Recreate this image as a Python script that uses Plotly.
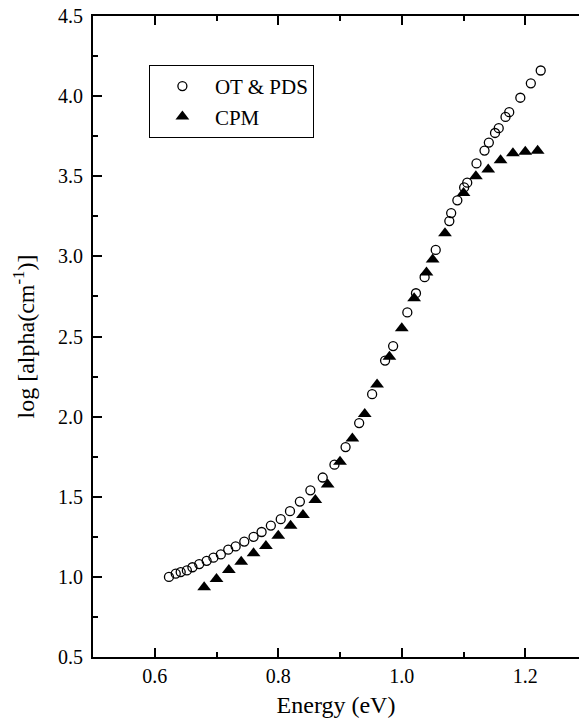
import plotly.graph_objects as go

# OT & PDS data (open circles)
ot_energy = [0.623, 0.634, 0.642, 0.652, 0.661, 0.672, 0.684, 0.695, 0.707, 0.719,
             0.731, 0.745, 0.760, 0.773, 0.788, 0.804, 0.819, 0.835, 0.852, 0.872,
             0.891, 0.909, 0.931, 0.952, 0.973, 0.986, 1.009, 1.023, 1.037, 1.055,
             1.077, 1.080, 1.090, 1.101, 1.106, 1.121, 1.134, 1.141, 1.151, 1.157,
             1.168, 1.174, 1.192, 1.209, 1.225]
ot_logalpha = [1.00, 1.02, 1.03, 1.04, 1.06, 1.08, 1.10, 1.12, 1.14, 1.17,
               1.19, 1.22, 1.25, 1.28, 1.32, 1.36, 1.41, 1.47, 1.54, 1.62,
               1.70, 1.81, 1.96, 2.14, 2.35, 2.44, 2.65, 2.77, 2.87, 3.04,
               3.22, 3.27, 3.35, 3.43, 3.46, 3.58, 3.66, 3.71, 3.77, 3.80,
               3.87, 3.90, 3.99, 4.08, 4.16]

# CPM data (filled triangles)
cpm_energy = [0.68, 0.70, 0.72, 0.74, 0.76, 0.78, 0.80, 0.82, 0.84, 0.86,
              0.88, 0.90, 0.92, 0.94, 0.96, 0.98, 1.00, 1.02, 1.04, 1.05,
              1.07, 1.10, 1.12, 1.14, 1.16, 1.18, 1.20, 1.22]
cpm_logalpha = [0.935, 0.987, 1.043, 1.095, 1.147, 1.192, 1.257, 1.319, 1.386, 1.48,
                1.577, 1.718, 1.864, 2.016, 2.201, 2.373, 2.551, 2.738, 2.90, 2.98,
                3.144, 3.395, 3.50, 3.542, 3.60, 3.643, 3.653, 3.659]

FONT = "'Liberation Serif', 'Times New Roman', 'DejaVu Serif', serif"

fig = go.Figure()
fig.add_trace(go.Scatter(
    x=ot_energy, y=ot_logalpha, mode="markers", name="OT & PDS",
    marker=dict(symbol="circle-open", size=9, color="black", line=dict(width=1.3, color="black")),
))
fig.add_trace(go.Scatter(
    x=cpm_energy, y=cpm_logalpha, mode="markers", name="CPM",
    marker=dict(symbol="triangle-up", size=12, color="black", line=dict(width=0)),
))

fig.update_layout(
    width=579, height=722,
    margin=dict(l=93, r=0, t=16, b=65),
    paper_bgcolor="white", plot_bgcolor="white",
    font=dict(family=FONT, size=20, color="black"),
    showlegend=True,
    legend=dict(
        x=0.115, y=0.9236, xanchor="left", yanchor="top",
        bordercolor="black", borderwidth=1, bgcolor="white",
        font=dict(family=FONT, size=21, color="black"),
        itemwidth=55,
    ),
    xaxis=dict(
        range=[0.5, 1.287], dtick=0.2, tick0=0.6,
        showgrid=False, zeroline=False,
        showline=True, linecolor="black", linewidth=2, mirror="allticks",
        ticks="inside", ticklen=9, tickwidth=1.5, tickcolor="black",
        tickformat=".1f",
        minor=dict(dtick=0.1, ticks="inside", ticklen=5, tickwidth=1.5, tickcolor="black"),
        title=dict(text="Energy (eV)", font=dict(family=FONT, size=24), standoff=10),
        tickfont=dict(family=FONT, size=20),
    ),
    yaxis=dict(
        range=[0.5, 4.5], dtick=0.5, tick0=0.5,
        showgrid=False, zeroline=False,
        showline=True, linecolor="black", linewidth=2, mirror=False,
        ticks="inside", ticklen=9, tickwidth=1.5, tickcolor="black",
        tickformat=".1f", ticklabelstandoff=4,
        minor=dict(dtick=0.25, ticks="inside", ticklen=5, tickwidth=1.5, tickcolor="black"),
        title=dict(text="log [alpha(cm<sup>-1</sup>)]", font=dict(family=FONT, size=24), standoff=17),
        tickfont=dict(family=FONT, size=20),
    ),
)

fig.write_html("out.html")
